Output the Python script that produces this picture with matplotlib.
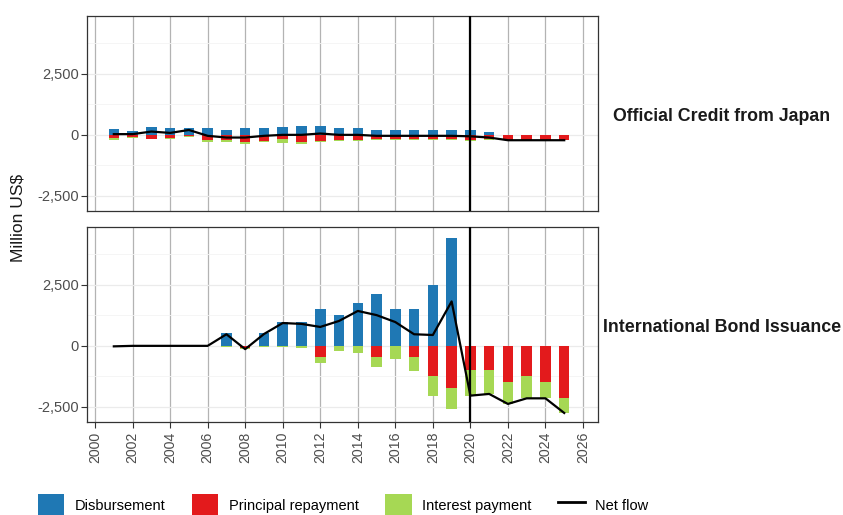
import numpy as np
import matplotlib
matplotlib.use("Agg")
import matplotlib.pyplot as plt
from matplotlib.patches import Patch
from matplotlib.lines import Line2D
from matplotlib.ticker import FuncFormatter, MultipleLocator

plt.rcParams['font.family'] = ['Liberation Sans', 'DejaVu Sans']

years = np.arange(2001, 2026)

# Official credit from Japan (million US$)
jp_disb = [230, 165, 325, 270, 270, 270, 190, 270, 270, 325, 365, 365, 270,
           270, 190, 190, 190, 190, 190, 190, 110, 0, 0, 0, 0]
jp_princ = [110, 90, 150, 120, 50, 230, 230, 300, 240, 170, 290, 250, 210,
            200, 180, 180, 180, 180, 180, 200, 180, 200, 200, 200, 200]
jp_int = [90, 45, 40, 70, 20, 80, 70, 80, 70, 155, 75, 60, 60,
          70, 50, 50, 50, 50, 50, 50, 40, 20, 20, 20, 20]

# International bond issuance (million US$)
bond_disb = [0, 0, 0, 0, 0, 0, 515, 0, 515, 990, 990, 1495, 1250,
             1740, 2145, 1495, 1495, 2485, 4400, 0, 0, 0, 0, 0, 0]
bond_princ = [0, 0, 0, 0, 0, 0, 0, 90, 0, 0, 0, 475, 0,
              0, 475, 0, 475, 1250, 1740, 980, 980, 1470, 1250, 1470, 2150]
bond_int = [20, 0, 0, 0, 0, 0, 40, 45, 30, 55, 90, 245, 230,
            310, 410, 520, 545, 790, 840, 1060, 990, 910, 900, 680, 600]

panels = [
    ("Official Credit from Japan", jp_disb, jp_princ, jp_int),
    ("International Bond Issuance", bond_disb, bond_princ, bond_int),
]

c_disb = "#1F78B4"
c_princ = "#E31A1C"
c_int = "#A6D854"

W, H = 843, 515
fig = plt.figure(figsize=(W / 100, H / 100), dpi=100)

left, right = 87, 598
boxes = [(16, 211), (227, 422)]
bar_w = 0.56

for i, ((title, disb, princ, intr), (top, bot)) in enumerate(zip(panels, boxes)):
    ax = fig.add_axes([left / W, 1 - bot / H, (right - left) / W, (bot - top) / H])
    disb = np.array(disb, float)
    princ = np.array(princ, float)
    intr = np.array(intr, float)
    net = disb - princ - intr

    ax.bar(years, disb, width=bar_w, color=c_disb, zorder=3)
    ax.bar(years, -princ, width=bar_w, color=c_princ, zorder=3)
    ax.bar(years, -intr, width=bar_w, bottom=-princ, color=c_int, zorder=3)
    ax.plot(years, net, color="black", lw=1.6, zorder=4)
    ax.axvline(2020, color="black", lw=1.6, zorder=5)

    ax.set_xlim(1999.57, 2026.8)
    ax.set_ylim(-3120, 4870)
    ax.yaxis.set_major_locator(MultipleLocator(2500))
    ax.yaxis.set_minor_locator(MultipleLocator(1250))
    ax.xaxis.set_major_locator(MultipleLocator(2))
    ax.yaxis.set_major_formatter(FuncFormatter(lambda v, p: f"{v:,.0f}"))

    ax.grid(axis="y", which="major", color="#EBEBEB", lw=0.9, zorder=0)
    ax.grid(axis="y", which="minor", color="#F4F4F4", lw=0.6, zorder=0)
    ax.grid(axis="x", which="major", color="#B3B3B3", lw=0.9, zorder=0)

    for s in ax.spines.values():
        s.set_color("#333333")
        s.set_linewidth(0.9)
    ax.tick_params(axis="y", which="major", length=4, color="#333333",
                   labelsize=10.5, labelcolor="#4D4D4D", pad=2)
    ax.tick_params(axis="y", which="minor", length=0)
    ax.tick_params(axis="x", length=4, color="#333333",
                   labelsize=10.2, labelcolor="#4D4D4D", labelrotation=90, pad=3)
    if i == 0:
        ax.tick_params(axis="x", length=0, labelbottom=False)

    fig.text(722 / W, 1 - ((top + bot) / 2 + 3) / H, title, ha="center",
             va="center", fontsize=12.8, fontweight="bold", color="#1A1A1A")

fig.text(18 / W, 1 - 218 / H, "Million US$", rotation=90, ha="center",
         va="center", fontsize=12.5, color="#1A1A1A")

handles = [
    Patch(facecolor=c_disb, label="Disbursement"),
    Patch(facecolor=c_princ, label="Principal repayment"),
    Patch(facecolor=c_int, label="Interest payment"),
    Line2D([0], [0], color="black", lw=2, label="Net flow"),
]
fig.legend(handles=handles, loc="center", ncol=4, frameon=False,
           bbox_to_anchor=(343 / W, 1 - 505 / H), fontsize=10.5,
           handlelength=1.8, handleheight=2.0, handletextpad=0.7,
           columnspacing=1.85)

fig.savefig("out.png", dpi=100)
